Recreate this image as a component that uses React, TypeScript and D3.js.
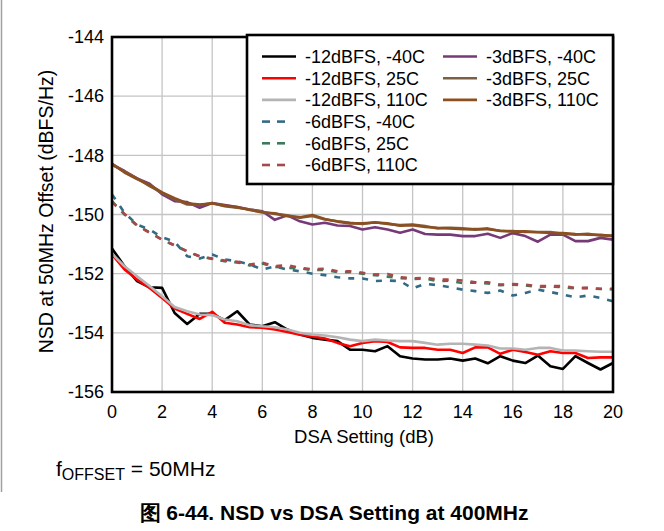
import React from "react";
import * as d3 from "d3";

const dsa = [0, 0.5, 1, 1.5, 2, 2.5, 3, 3.5, 4, 4.5, 5, 5.5, 6, 6.5, 7, 7.5, 8, 8.5, 9, 9.5, 10, 10.5, 11, 11.5, 12, 12.5, 13, 13.5, 14, 14.5, 15, 15.5, 16, 16.5, 17, 17.5, 18, 18.5, 19, 19.5, 20];

const m12_n40 = [-151.15, -151.75, -152.25, -152.46, -152.48, -153.33, -153.70, -153.36, -153.36, -153.57, -153.27, -153.72, -153.78, -153.64, -153.89, -154.06, -154.17, -154.23, -154.28, -154.57, -154.57, -154.62, -154.45, -154.79, -154.87, -154.90, -154.90, -154.87, -154.94, -154.87, -155.03, -154.79, -154.94, -155.02, -154.77, -155.13, -155.22, -154.79, -155.02, -155.24, -155.02];
const m12_25 = [-151.35, -151.86, -152.20, -152.48, -152.82, -153.18, -153.36, -153.53, -153.29, -153.66, -153.72, -153.81, -153.83, -153.89, -153.97, -154.06, -154.12, -154.19, -154.34, -154.45, -154.34, -154.28, -154.31, -154.49, -154.51, -154.51, -154.57, -154.57, -154.68, -154.49, -154.49, -154.71, -154.57, -154.65, -154.74, -154.62, -154.68, -154.68, -154.85, -154.83, -154.83];
const m12_110 = [-151.33, -151.75, -152.09, -152.42, -152.76, -153.13, -153.27, -153.38, -153.40, -153.55, -153.61, -153.74, -153.78, -153.81, -153.89, -154.00, -154.06, -154.09, -154.15, -154.23, -154.28, -154.23, -154.26, -154.28, -154.28, -154.34, -154.40, -154.37, -154.37, -154.40, -154.43, -154.53, -154.53, -154.57, -154.51, -154.51, -154.60, -154.60, -154.62, -154.64, -154.64];
const m6_n40 = [-149.32, -149.94, -150.34, -150.51, -150.77, -150.92, -151.41, -151.49, -151.35, -151.52, -151.58, -151.69, -151.86, -151.75, -151.86, -151.92, -152.00, -152.05, -152.12, -152.16, -152.16, -152.25, -152.23, -152.25, -152.50, -152.34, -152.39, -152.46, -152.54, -152.59, -152.65, -152.57, -152.74, -152.65, -152.54, -152.62, -152.71, -152.80, -152.74, -152.82, -152.93];
const m6_25 = [-149.55, -150.00, -150.38, -150.60, -150.85, -151.05, -151.25, -151.42, -151.50, -151.58, -151.62, -151.72, -151.66, -151.77, -151.80, -151.82, -151.88, -151.87, -151.95, -151.95, -152.00, -152.05, -152.10, -152.15, -152.18, -152.17, -152.25, -152.24, -152.32, -152.30, -152.33, -152.39, -152.37, -152.40, -152.45, -152.43, -152.46, -152.50, -152.49, -152.52, -152.53];
const m6_110 = [-149.58, -149.98, -150.36, -150.62, -150.85, -151.04, -151.24, -151.41, -151.49, -151.56, -151.60, -151.69, -151.63, -151.75, -151.71, -151.80, -151.86, -151.83, -151.92, -151.92, -151.97, -152.03, -152.01, -152.12, -152.16, -152.14, -152.20, -152.20, -152.23, -152.29, -152.29, -152.37, -152.35, -152.37, -152.42, -152.42, -152.42, -152.48, -152.48, -152.51, -152.51];
const m3_n40 = [-148.31, -148.53, -148.78, -148.96, -149.32, -149.55, -149.58, -149.77, -149.61, -149.68, -149.75, -149.83, -149.89, -150.18, -150.03, -150.23, -150.34, -150.28, -150.37, -150.39, -150.51, -150.43, -150.51, -150.62, -150.51, -150.66, -150.68, -150.68, -150.73, -150.73, -150.65, -150.79, -150.63, -150.73, -150.92, -150.68, -150.68, -150.90, -150.90, -150.79, -150.85];
const m3_25 = [-148.31, -148.55, -148.78, -149.04, -149.27, -149.49, -149.66, -149.68, -149.61, -149.72, -149.77, -149.83, -149.91, -149.98, -150.03, -150.11, -150.05, -150.17, -150.23, -150.28, -150.32, -150.26, -150.32, -150.36, -150.34, -150.39, -150.47, -150.45, -150.47, -150.51, -150.47, -150.56, -150.56, -150.59, -150.59, -150.59, -150.65, -150.68, -150.65, -150.71, -150.71];
const m3_110 = [-148.28, -148.58, -148.80, -149.00, -149.25, -149.45, -149.62, -149.66, -149.63, -149.70, -149.75, -149.85, -149.93, -149.96, -150.06, -150.09, -150.02, -150.15, -150.24, -150.30, -150.30, -150.27, -150.30, -150.38, -150.36, -150.42, -150.45, -150.47, -150.50, -150.49, -150.50, -150.55, -150.58, -150.57, -150.60, -150.62, -150.63, -150.66, -150.68, -150.69, -150.73];

const seriesNames = ["-12dBFS, -40C", "-12dBFS, 25C", "-12dBFS, 110C", "-6dBFS, -40C", "-6dBFS, 25C", "-6dBFS, 110C", "-3dBFS, -40C", "-3dBFS, 25C", "-3dBFS, 110C"];
const seriesValues = [m12_n40, m12_25, m12_110, m6_n40, m6_25, m6_110, m3_n40, m3_25, m3_110];
const seriesColors = ["#000000", "#ff0000", "#b4b4b4", "#336b87", "#3e7a5a", "#a84848", "#773a78", "#7d6043", "#8c4f21"];
const seriesDashed = [false, false, false, true, true, true, false, false, false];

const xTicks = [0, 2, 4, 6, 8, 10, 12, 14, 16, 18, 20];
const yTicks = [-144, -146, -148, -150, -152, -154, -156];

const FONT = "'Liberation Sans', Arial, sans-serif";

export default function App() {
  const left = 112, right = 613, top = 37, bottom = 392;
  const x = d3.scaleLinear().domain([0, 20]).range([left, right]);
  const y = d3.scaleLinear().domain([-156, -144]).range([bottom, top]);
  const line = d3.line<[number, number]>().x((d) => x(d[0])).y((d) => y(d[1]));

  const legendRows = [56.5, 78.2, 99.9, 121.6, 143.3, 165];

  return (
    <svg width={664} height={531} style={{ position: "absolute", left: 0, top: 0, background: "#fff" }} fontFamily={FONT}>
      <rect x={0} y={0} width={664} height={531} fill="#fff" />
      <line x1={1.5} x2={1.5} y1={0} y2={492} stroke="#a0a0a0" strokeWidth={1.5} />
      {xTicks.map((t) => (
        <line key={"gx" + t} x1={x(t)} x2={x(t)} y1={top} y2={bottom} stroke="#c4c4c4" strokeWidth={1.3} />
      ))}
      {yTicks.map((t) => (
        <line key={"gy" + t} x1={left} x2={right} y1={y(t)} y2={y(t)} stroke="#c4c4c4" strokeWidth={1.3} />
      ))}
      {seriesValues.map((vals, i) => (
        <path
          key={"s" + i}
          d={line(dsa.map((d, j) => [d, vals[j]]) as [number, number][]) || ""}
          fill="none"
          stroke={seriesColors[i]}
          strokeWidth={2.6}
          strokeDasharray={seriesDashed[i] ? "6 8" : undefined}
          strokeLinejoin="round"
        />
      ))}
      <rect x={left} y={top} width={right - left} height={bottom - top} fill="none" stroke="#000" strokeWidth={2.6} />
      <rect x={247} y={35} width={366} height={149} fill="#fff" stroke="#000" strokeWidth={2.6} />
      {seriesNames.map((name, i) => {
        const col = i < 6 ? 0 : 1;
        const row = i < 6 ? i : i - 6;
        const lx = col === 0 ? 262 : 443;
        const tx = col === 0 ? 305 : 486;
        const ly = legendRows[row];
        return (
          <g key={"lg" + i}>
            {seriesDashed[i] ? (
              <>
                <line x1={lx} x2={lx + 8} y1={ly} y2={ly} stroke={seriesColors[i]} strokeWidth={2.6} />
                <line x1={lx + 15} x2={lx + 23} y1={ly} y2={ly} stroke={seriesColors[i]} strokeWidth={2.6} />
              </>
            ) : (
              <line x1={lx} x2={lx + 34} y1={ly} y2={ly} stroke={seriesColors[i]} strokeWidth={2.6} />
            )}
            <text x={tx} y={ly} dy="0.35em" fontSize={18} fill="#000">{name}</text>
          </g>
        );
      })}
      {yTicks.map((t) => (
        <text key={"yl" + t} x={104} y={y(t)} dy="0.35em" textAnchor="end" fontSize={18} fill="#000">{t}</text>
      ))}
      {xTicks.map((t) => (
        <text key={"xl" + t} x={x(t)} y={412} dy="0.35em" textAnchor="middle" fontSize={18} fill="#000">{t}</text>
      ))}
      <text x={364} y={437} dy="0.35em" textAnchor="middle" fontSize={18.5} fill="#000">DSA Setting (dB)</text>
      <text transform={`translate(46,${(top + bottom) / 2 - 3}) rotate(-90)`} dy="0.35em" textAnchor="middle" fontSize={19.5} fill="#000">NSD at 50MHz Offset (dBFS/Hz)</text>
      <text x={56} y={476} fontSize={21} fill="#000">
        f<tspan fontSize={16} dy={4}>OFFSET</tspan><tspan dy={-4}> = 50MHz</tspan>
      </text>
      <text x={334} y={520} textAnchor="middle" fontSize={21} fontWeight="bold" fill="#000">图 6-44. NSD vs DSA Setting at 400MHz</text>
    </svg>
  );
}
